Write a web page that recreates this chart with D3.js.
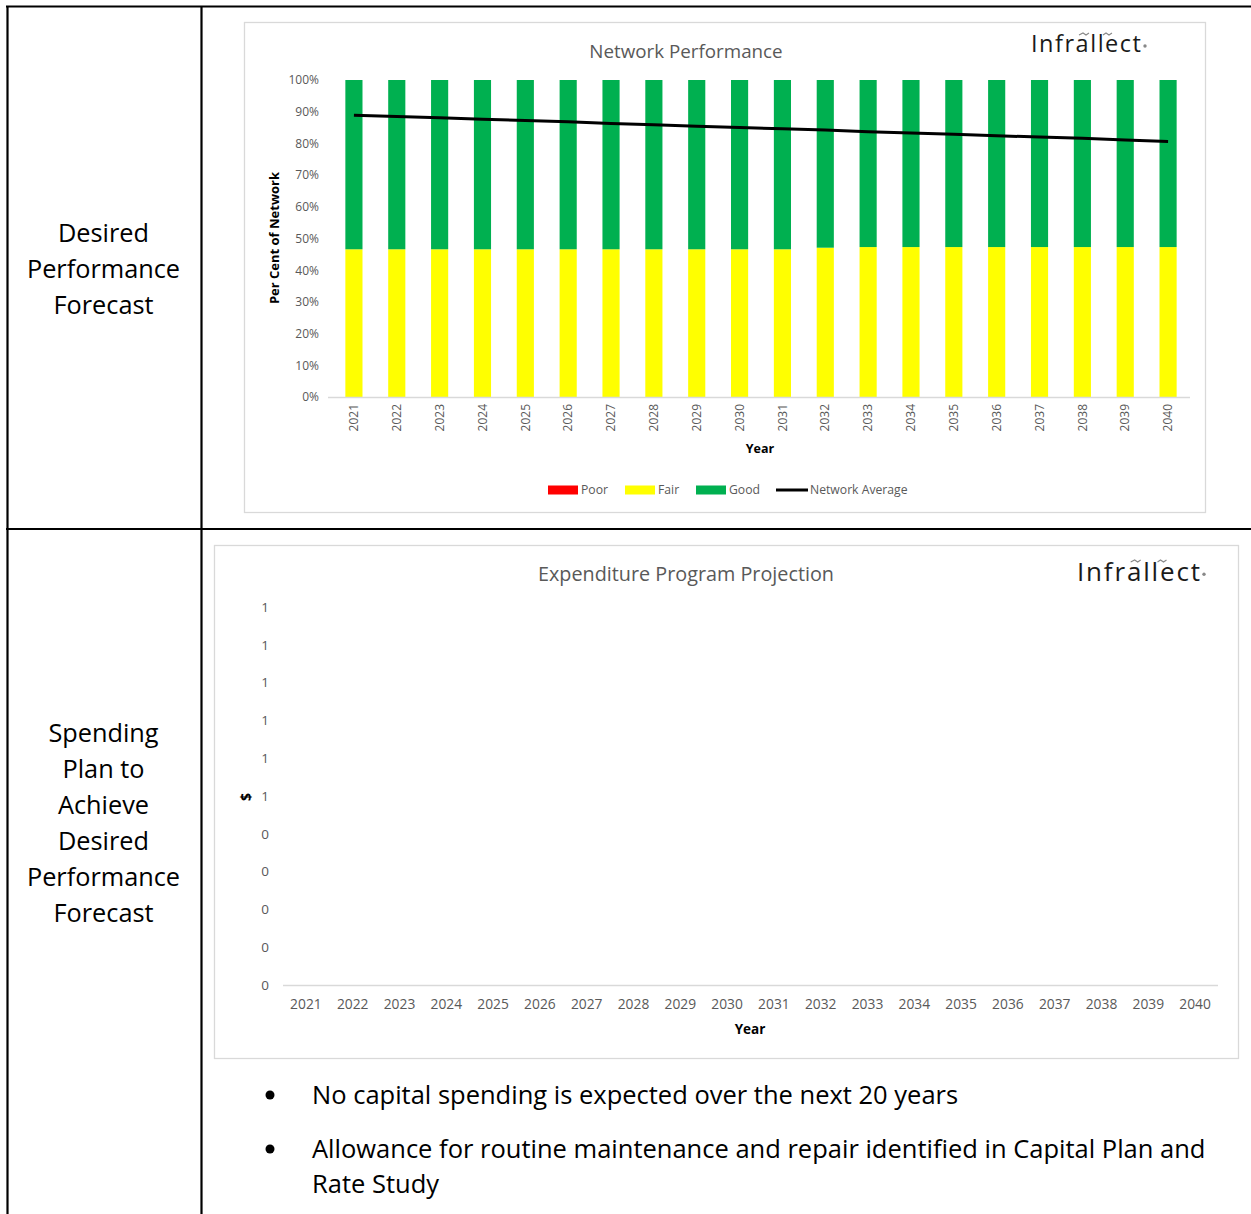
<!DOCTYPE html>
<html>
<head>
<meta charset="utf-8">
<script src="https://cdn.jsdelivr.net/npm/d3@7"></script>
<style>
  html, body { margin: 0; padding: 0; background: #fff; }
  svg { display: block; }
  text { font-family: "Open Sans", "Noto Sans", sans-serif; }
</style>
</head>
<body>
<svg id="page" width="1251" height="1214"></svg>
<script>
// Forecast years
const years = ["2021","2022","2023","2024","2025","2026","2027","2028","2029","2030",
               "2031","2032","2033","2034","2035","2036","2037","2038","2039","2040"];

// Condition shares (% of network)
const poor = [0,0,0,0,0,0,0,0,0,0,0,0,0,0,0,0,0,0,0,0];
const fair = [46.6,46.6,46.6,46.6,46.6,46.6,46.6,46.6,46.6,46.6,
              46.6,47.1,47.3,47.3,47.3,47.3,47.3,47.3,47.3,47.3];
const good = fair.map((f, i) => 100 - f - poor[i]);

// Network average condition (%)
const networkAverage = [88.9,88.5,88.1,87.6,87.2,86.8,86.3,85.9,85.4,85.0,
                        84.6,84.2,83.7,83.3,82.9,82.4,82.0,81.6,81.1,80.6];

// Capital spending per year ($)
const spending = [0,0,0,0,0,0,0,0,0,0,0,0,0,0,0,0,0,0,0,0];

const pctTicks = [0,10,20,30,40,50,60,70,80,90,100];
const legendItems = [
  { name: "Poor", color: "#ff0000", type: "bar" },
  { name: "Fair", color: "#ffff00", type: "bar" },
  { name: "Good", color: "#00b050", type: "bar" },
  { name: "Network Average", color: "#000000", type: "line" }
];

const svg = d3.select("#page");
const grey = "#595959";

// ---------- table frame ----------
const table = svg.append("g").attr("stroke", "#000").attr("stroke-width", 2.2);
table.append("line").attr("x1", 6).attr("x2", 1251).attr("y1", 6.5).attr("y2", 6.5);
table.append("line").attr("x1", 7.5).attr("x2", 7.5).attr("y1", 6).attr("y2", 1214);
table.append("line").attr("x1", 201.5).attr("x2", 201.5).attr("y1", 6).attr("y2", 1214);
table.append("line").attr("x1", 6).attr("x2", 1251).attr("y1", 529).attr("y2", 529);

function cellText(lines, yStart) {
  const t = svg.append("text").attr("text-anchor", "middle")
    .attr("font-size", 25.3).attr("fill", "#000");
  lines.forEach((l, i) => t.append("tspan").attr("x", 103.5).attr("y", yStart + i * 36).text(l));
}
cellText(["Desired", "Performance", "Forecast"], 242);
cellText(["Spending", "Plan to", "Achieve", "Desired", "Performance", "Forecast"], 742);

// company mark: word plus small accents
function logo(g, x, y, size, len) {
  g.append("text").attr("x", x).attr("y", y).attr("font-size", size)
    .attr("textLength", len).attr("lengthAdjust", "spacing")
    .attr("fill", "#1a1a1a").text("Infrallect");
  const k = len / 110;
  g.append("path")
    .attr("d", `M${x + 48 * k},${y - 17 * k}l4,-2l3,2l3,-2 M${x + 72 * k},${y - 17 * k}l3,-2l3,2l3,-2`)
    .attr("fill", "none").attr("stroke", "#888").attr("stroke-width", 1.1);
  g.append("circle").attr("cx", x + len + 4).attr("cy", y - 6 * k).attr("r", 1.7).attr("fill", "#888");
}

// ---------- chart 1: network performance ----------
const c1 = svg.append("g");
c1.append("rect").attr("x", 244.5).attr("y", 22.5).attr("width", 961).attr("height", 490)
  .attr("fill", "#fff").attr("stroke", "#d9d9d9").attr("stroke-width", 1.3);

c1.append("text").attr("x", 686).attr("y", 58).attr("text-anchor", "middle")
  .attr("font-size", 18.8).attr("fill", grey).text("Network Performance");
logo(c1, 1031, 52, 23.5, 110);

const x1 = d3.scaleBand().domain(years).range([332.5, 1189.5]).paddingInner(0.6).paddingOuter(0.3);
const y1 = d3.scaleLinear().domain([0, 100]).range([397, 80]);

const stackData = years.map((yr, i) => ({ year: yr, Poor: poor[i], Fair: fair[i], Good: good[i] }));
const stack = d3.stack().keys(["Poor", "Fair", "Good"])(stackData);
const colorOf = { Poor: "#ff0000", Fair: "#ffff00", Good: "#00b050" };

c1.append("g").selectAll("g").data(stack).join("g")
  .attr("fill", d => colorOf[d.key])
  .selectAll("rect").data(d => d).join("rect")
  .attr("x", d => x1(d.data.year))
  .attr("width", x1.bandwidth())
  .attr("y", d => y1(d[1]))
  .attr("height", d => y1(d[0]) - y1(d[1]));

const yAxis1 = c1.append("g").attr("transform", "translate(328,0)")
  .call(d3.axisLeft(y1).tickValues(pctTicks).tickFormat(d => d + "%").tickSize(0).tickPadding(9));
yAxis1.select(".domain").remove();
yAxis1.selectAll("text").attr("font-size", 12).attr("fill", grey)
  .attr("font-family", "'Open Sans', sans-serif");

const xAxis1 = c1.append("g").attr("transform", "translate(0,397)")
  .call(d3.axisBottom(x1).tickSize(0).tickPadding(0));
xAxis1.select(".domain").attr("stroke", "#d9d9d9").attr("stroke-width", 1.3)
  .attr("d", "M328,0.5H1190");
xAxis1.selectAll("text").attr("font-size", 12).attr("fill", grey)
  .attr("font-family", "'Open Sans', sans-serif")
  .attr("transform", "rotate(-90)").attr("text-anchor", "end")
  .attr("x", -7).attr("y", 0).attr("dy", "0.35em");

const avgLine = d3.line().x((d, i) => x1(years[i]) + x1.bandwidth() / 2).y(d => y1(d));
c1.append("path").datum(networkAverage).attr("d", avgLine)
  .attr("fill", "none").attr("stroke", "#000").attr("stroke-width", 3);

c1.append("text").attr("x", 760).attr("y", 453).attr("text-anchor", "middle")
  .attr("font-size", 12.5).attr("font-weight", "bold").attr("fill", "#000").text("Year");
c1.append("text").attr("transform", "translate(279,238) rotate(-90)").attr("text-anchor", "middle")
  .attr("font-size", 13).attr("font-weight", "bold").attr("fill", "#000").text("Per Cent of Network");

// legend
const legendX = [548, 625, 696, 776];
const legend = c1.append("g");
legendItems.forEach((it, i) => {
  const g = legend.append("g").attr("transform", `translate(${legendX[i]},490)`);
  if (it.type === "bar") {
    g.append("rect").attr("x", 0).attr("y", -4.5).attr("width", 30).attr("height", 9).attr("fill", it.color);
  } else {
    g.append("line").attr("x1", 0).attr("x2", 32).attr("y1", 0).attr("y2", 0)
      .attr("stroke", it.color).attr("stroke-width", 3);
  }
  g.append("text").attr("x", it.type === "bar" ? 33 : 34).attr("y", 0).attr("dy", "0.35em")
    .attr("font-size", 12.2).attr("fill", grey).text(it.name);
});

// ---------- chart 2: expenditure program projection ----------
const c2 = svg.append("g");
c2.append("rect").attr("x", 214.5).attr("y", 545.5).attr("width", 1024).attr("height", 513)
  .attr("fill", "#fff").attr("stroke", "#d9d9d9").attr("stroke-width", 1.3);

c2.append("text").attr("x", 686).attr("y", 581).attr("text-anchor", "middle")
  .attr("font-size", 19.8).attr("fill", grey).text("Expenditure Program Projection");
logo(c2, 1077, 581, 26, 123);

const x2 = d3.scaleBand().domain(years).range([282.5, 1218.5]).paddingInner(0.3).paddingOuter(0.15);
const y2 = d3.scaleLinear().domain([0, 1]).range([985, 607]);

c2.append("g").selectAll("rect").data(spending).join("rect")
  .attr("x", (d, i) => x2(years[i])).attr("width", x2.bandwidth())
  .attr("y", d => y2(d)).attr("height", d => y2(0) - y2(d)).attr("fill", "#4472c4");

const yAxis2 = c2.append("g").attr("transform", "translate(283,0)")
  .call(d3.axisLeft(y2).ticks(10).tickFormat(d => String(Math.round(d))).tickSize(0).tickPadding(14));
yAxis2.select(".domain").remove();
yAxis2.selectAll("text").attr("font-size", 13.5).attr("fill", grey)
  .attr("font-family", "'Open Sans', sans-serif");

const xAxis2 = c2.append("g").attr("transform", "translate(0,985)")
  .call(d3.axisBottom(x2).tickSize(0).tickPadding(14));
xAxis2.select(".domain").attr("stroke", "#d9d9d9").attr("stroke-width", 1.3)
  .attr("d", "M283,0.5H1218");
xAxis2.selectAll("text").attr("font-size", 13.8).attr("fill", grey)
  .attr("font-family", "'Open Sans', sans-serif");

c2.append("text").attr("x", 750).attr("y", 1034).attr("text-anchor", "middle")
  .attr("font-size", 13.5).attr("font-weight", "bold").attr("fill", "#000").text("Year");
c2.append("text").attr("transform", "translate(251,797) rotate(-90)").attr("text-anchor", "middle")
  .attr("font-size", 14).attr("font-weight", "bold").attr("fill", "#000").text("$");

// ---------- notes ----------
const notes = svg.append("g").attr("font-size", 25.5).attr("fill", "#000");
notes.append("circle").attr("cx", 270).attr("cy", 1095).attr("r", 4.5).attr("fill", "#000");
notes.append("text").attr("x", 312).attr("y", 1104).text("No capital spending is expected over the next 20 years");
notes.append("circle").attr("cx", 270).attr("cy", 1149).attr("r", 4.5).attr("fill", "#000");
notes.append("text").attr("x", 312).attr("y", 1158).text("Allowance for routine maintenance and repair identified in Capital Plan and");
notes.append("text").attr("x", 312).attr("y", 1193).text("Rate Study");
</script>
</body>
</html>
